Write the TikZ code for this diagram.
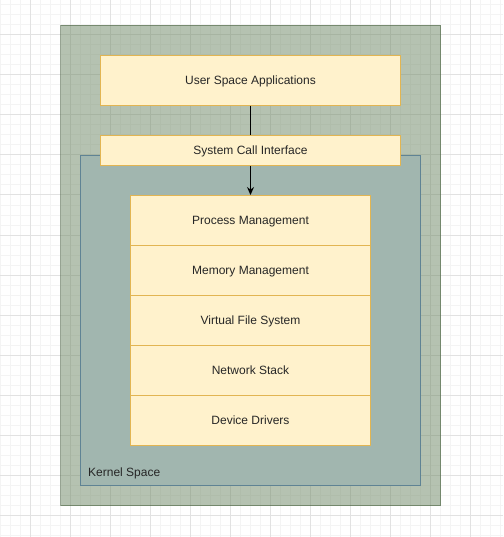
\documentclass[tikz,border=0pt]{standalone}
\usepackage{fontspec}
\setmainfont{Liberation Sans}
\usetikzlibrary{arrows.meta}
\definecolor{gridmajor}{HTML}{E2E2E2}
\definecolor{gridminor}{HTML}{F4F4F4}
\definecolor{outerfill}{HTML}{6D8764}
\definecolor{outerdraw}{HTML}{3A5431}
\definecolor{innerfill}{HTML}{A1B6AF}
\definecolor{innerdraw}{HTML}{5F8394}
\definecolor{layerfill}{HTML}{FFF2CC}
\definecolor{layerdraw}{HTML}{E2B552}
\tikzset{
  layer/.style={draw=layerdraw, fill=layerfill, line width=1pt, inner sep=0pt,
    font=\fontsize{12}{14}\selectfont, text=black!85,
    text height=9pt, text depth=1pt},
  conn/.style={line width=1pt, -{Stealth[length=8pt,width=7pt]}}
}
\begin{document}
\begin{tikzpicture}[x=1pt,y=-1pt]
\useasboundingbox (0,0) rectangle (503,537);
\fill[white] (0,0) rectangle (503,537);
% grid
\foreach \x in {0,10,...,500} \draw[gridminor,line width=1pt] (\x,0) -- (\x,537);
\foreach \y in {5,15,...,535} \draw[gridminor,line width=1pt] (0,\y) -- (503,\y);
\foreach \x in {30,70,...,500} \draw[gridmajor,line width=1pt] (\x,0) -- (\x,537);
\foreach \y in {35,75,...,535} \draw[gridmajor,line width=1pt] (0,\y) -- (503,\y);
% outer box
\node[draw=outerdraw, draw opacity=0.5, fill=outerfill, fill opacity=0.5, line width=1pt,
  minimum width=380pt, minimum height=480pt, inner sep=0pt, anchor=north west] (outer) at (60,25) {};
% inner kernel box
\node[draw=innerdraw, fill=innerfill, line width=1pt,
  minimum width=340pt, minimum height=330pt, inner sep=0pt, anchor=north west] (kernel) at (80,155) {};
\node[anchor=west, font=\fontsize{12}{14}\selectfont, text=black!85, inner sep=0pt] (klabel) at (88,473) {Kernel Space};
% layers
\node[layer, minimum width=300pt, minimum height=50pt, anchor=north west] (user) at (100,55) {User Space Applications};
\node[layer, minimum width=240pt, minimum height=50pt, anchor=north west] (proc) at (130,195) {Process Management};
\node[layer, minimum width=240pt, minimum height=50pt, anchor=north west] (mem) at (130,245) {Memory Management};
\node[layer, minimum width=240pt, minimum height=50pt, anchor=north west] (vfs) at (130,295) {Virtual File System};
\node[layer, minimum width=240pt, minimum height=50pt, anchor=north west] (net) at (130,345) {Network Stack};
\node[layer, minimum width=240pt, minimum height=50pt, anchor=north west] (dev) at (130,395) {Device Drivers};
\draw[conn] (user.south) -- (proc.north);
\node[layer, minimum width=300pt, minimum height=30pt, anchor=north west] (sys) at (100,135) {System Call Interface};
\end{tikzpicture}
\end{document}
